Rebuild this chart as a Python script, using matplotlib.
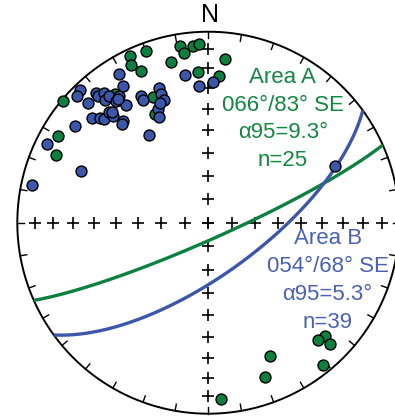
"""Equal-area lower-hemisphere stereonet of joint poles for two areas."""

import numpy as np
import matplotlib

matplotlib.use("Agg")
import matplotlib.pyplot as plt

# poles to planes, trend/plunge in degrees
area_a_trend = [310, 300, 294, 335, 334, 340, 336, 347, 351, 352, 355, 357, 356, 6, 4,
                336, 334, 324, 134, 137, 135, 155, 141, 160, 176]
area_a_plunge = [1, 10, 14, 4, 9, 5, 14, 15, 7, 11, 8, 7, 22, 15, 24,
                 29, 37, 18, 16, 17, 11, 24, 5, 15, 8]
area_b_trend = [282, 296, 292, 306, 316, 314, 315, 319, 319, 321, 320, 322, 323, 325, 328,
                329, 325, 312, 314, 315, 318, 318, 320, 319, 332, 332, 340, 340, 340, 336,
                335, 326, 351, 356, 2, 66, 319, 324, 338]
area_b_plunge = [6, 7, 29, 15, 4, 5, 12, 11, 13, 14, 17, 17, 21, 20, 17,
                 10, 26, 19, 22, 24, 23, 26, 31, 32, 26, 28, 26, 29, 32, 35,
                 39, 44, 23, 29, 27, 28, 24, 21, 33]

# mean planes (strike / dip, right-hand rule)
area_a_plane = (66, 83)
area_b_plane = (54, 68)

labels_a = ["Area A", "066°/83° SE", "α95=9.3°", "n=25"]
labels_b = ["Area B", "054°/68° SE", "α95=5.3°", "n=39"]

GREEN = "#0d8040"
BLUE = "#3c56a9"
TEXT_GREEN = "#12873f"
TEXT_BLUE = "#4a60b2"


def project(trend, plunge):
    """Equal-area (Schmidt) lower hemisphere, primitive radius 1."""
    trend = np.radians(np.asarray(trend, dtype=float))
    plunge = np.radians(np.asarray(plunge, dtype=float))
    r = np.sqrt(2) * np.sin((np.pi / 2 - plunge) / 2)
    return r * np.sin(trend), r * np.cos(trend)


def great_circle(strike, dip):
    s = np.radians(strike)
    d = np.radians(dip)
    a = np.linspace(0, np.pi, 361)
    sv = np.array([np.sin(s), np.cos(s), 0.0])
    dv = np.array([np.cos(d) * np.sin(s + np.pi / 2), np.cos(d) * np.cos(s + np.pi / 2), np.sin(d)])
    v = np.outer(np.cos(a), sv) + np.outer(np.sin(a), dv)
    trend = np.degrees(np.arctan2(v[:, 0], v[:, 1]))
    plunge = np.degrees(np.arcsin(np.clip(v[:, 2], -1, 1)))
    return project(trend, plunge)


def main() -> None:
    plt.rcParams["font.family"] = ["Liberation Sans", "DejaVu Sans"]
    fig = plt.figure(figsize=(3.95, 4.18), dpi=100)
    ax = fig.add_axes([0, 0, 1, 1])
    ax.set_xlim(-1.0906, 0.9775)
    ax.set_ylim(-1.0225, 1.166)
    ax.set_aspect("equal")
    ax.axis("off")

    # primitive circle
    t = np.linspace(0, 2 * np.pi, 721)
    ax.plot(np.cos(t), np.sin(t), color="black", lw=1.4, zorder=2)

    # azimuth ticks every 10 degrees
    for az in np.radians(np.arange(0, 360, 10)):
        ax.plot([np.sin(az), 0.965 * np.sin(az)], [np.cos(az), 0.965 * np.cos(az)],
                color="black", lw=1.0, zorder=2)

    # crosses along the N-S and E-W axes every 10 degrees
    cx, _ = project(90, np.arange(10, 100, 10))
    offs = np.concatenate([-cx, cx[:-1][::-1]])
    xs = np.concatenate([offs, np.zeros_like(offs)])
    ys = np.concatenate([np.zeros_like(offs), offs])
    ax.scatter(xs, ys, marker="+", s=85, c="black", linewidths=1.2, zorder=2)

    for (strike, dip), color in ((area_a_plane, GREEN), (area_b_plane, BLUE)):
        gx, gy = great_circle(strike, dip)
        ax.plot(gx, gy, color=color, lw=2.4, zorder=3, solid_capstyle="butt")

    ax_pts, ay_pts = project(area_a_trend, area_a_plunge)
    bx_pts, by_pts = project(area_b_trend, area_b_plunge)
    ax.scatter(ax_pts, ay_pts, s=62, c=GREEN, edgecolors="black", linewidths=1.0, zorder=4)
    ax.scatter(bx_pts, by_pts, s=62, c=BLUE, edgecolors="black", linewidths=1.0, zorder=5)

    ax.text(0.01, 1.085, "N", ha="center", va="center", fontsize=18, zorder=6)

    line_h = 0.145
    for i, s in enumerate(labels_a):
        ax.text(0.39, 0.76 - i * line_h, s, ha="center", va="center",
                fontsize=16, color=TEXT_GREEN, zorder=6)
    for i, s in enumerate(labels_b):
        ax.text(0.625, -0.085 - i * line_h, s, ha="center", va="center",
                fontsize=16, color=TEXT_BLUE, zorder=6)

    fig.savefig("out.png", dpi=100)


if __name__ == "__main__":
    main()
